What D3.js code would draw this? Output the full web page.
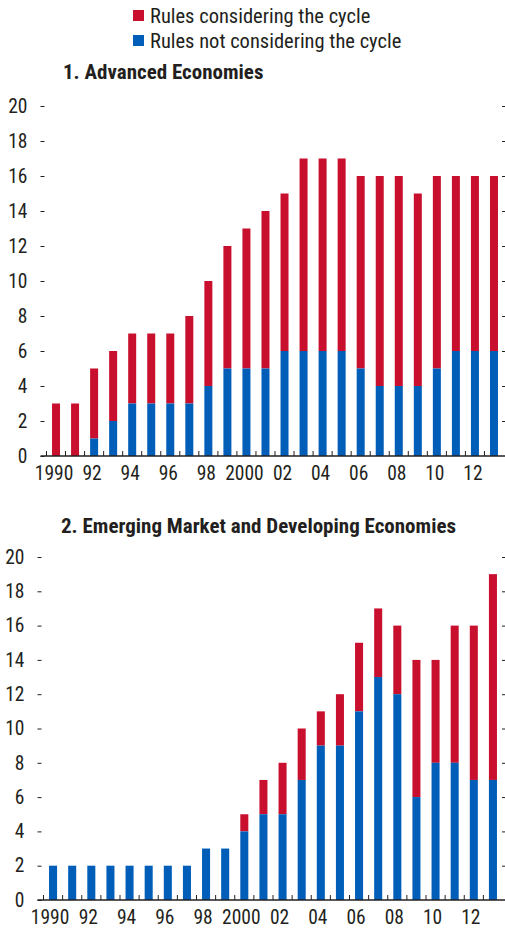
<!DOCTYPE html>
<html><head><meta charset="utf-8">
<script src="https://cdn.jsdelivr.net/npm/d3@7"></script>
<style>
body{margin:0;background:#fff;}
text{font-family:"Liberation Sans Narrow","Arial Narrow","Roboto Condensed",sans-serif;fill:#231f20;}
</style></head><body>
<svg id="c" width="505" height="932"></svg>
<script>
const years = d3.range(1990, 2014);
const tickLabels = ["1990","92","94","96","98","2000","02","04","06","08","10","12"];
const yTicks = [0,2,4,6,8,10,12,14,16,18,20];
// Advanced economies
const advNot = [0,0,1,2,3,3,3,3,4,5,5,5,6,6,6,6,5,4,4,4,5,6,6,6];
const advTotal = [3,3,5,6,7,7,7,8,10,12,13,14,15,17,17,17,16,16,16,15,16,16,16,16];
// Emerging market and developing economies
const emNot = [2,2,2,2,2,2,2,2,3,3,4,5,5,7,9,9,11,13,12,6,8,8,7,7];
const emTotal = [2,2,2,2,2,2,2,2,3,3,5,7,8,10,11,12,15,17,16,14,14,16,16,19];

const RED = "#c8102e", BLUE = "#005eb8";
const svg = d3.select("#c");

// legend
const leg = svg.append("g");
[["Rules considering the cycle", RED, 16], ["Rules not considering the cycle", BLUE, 41]].forEach(([t,c,y])=>{
  leg.append("rect").attr("x",133).attr("y",y-6).attr("width",11).attr("height",11).attr("fill",c);
  leg.append("text").attr("x",150).attr("y",y+7).attr("font-size",20.5).text(t);
});

function panel(title, titleX, titleY, y0, y20, xStart, xEnd, notArr, totArr, labelShift){
  const g = svg.append("g");
  const x = d3.scaleBand().domain(years).range([xStart, xEnd]).paddingInner(0.58).paddingOuter(0.29);
  const y = d3.scaleLinear().domain([0,20]).range([y0, y20]);
  g.append("text").attr("x",titleX).attr("y",titleY).attr("font-size",21).attr("font-weight","bold").text(title);
  // bars
  years.forEach((yr,i)=>{
    g.append("rect").attr("x",x(yr)).attr("width",x.bandwidth())
      .attr("y",y(totArr[i])).attr("height",y(notArr[i])-y(totArr[i])).attr("fill",RED);
    g.append("rect").attr("x",x(yr)).attr("width",x.bandwidth())
      .attr("y",y(notArr[i])).attr("height",y(0)-y(notArr[i])).attr("fill",BLUE);
  });
  // left axis
  const ly = d3.axisLeft(y).tickValues(yTicks).tickSize(5).tickPadding(9);
  const la = g.append("g").attr("transform",`translate(${xStart-5},0)`).call(ly);
  la.select(".domain").remove();
  la.selectAll("line").attr("transform","translate(5,0)").attr("stroke","#231f20").attr("x1",-6).attr("x2",-2);
  la.selectAll("text").attr("font-size",19.5).style("font-family",'"Liberation Sans Narrow","Arial Narrow","Roboto Condensed",sans-serif').attr("fill","#231f20");
  // right ticks
  const ra = g.append("g").attr("transform",`translate(505,0)`).call(d3.axisLeft(y).tickValues(yTicks.slice(1)).tickSize(3).tickFormat(""));
  ra.select(".domain").remove();
  ra.selectAll("line").attr("stroke","#231f20");
  // x axis
  g.append("line").attr("x1",xStart-6).attr("x2",505).attr("y1",y0).attr("y2",y0).attr("stroke","#231f20").attr("stroke-width",1.5);
  const step = x.step();
  years.forEach((yr,i)=>{
    const tx = x(yr) - (step - x.bandwidth())/2;
    g.append("line").attr("x1",tx).attr("x2",tx).attr("y1",y0).attr("y2",y0-5).attr("stroke","#231f20");
  });
  tickLabels.forEach((lab,i)=>{
    const yr = years[i*2];
    g.append("text").attr("x",x(yr)+x.bandwidth()/2+labelShift).attr("y",y0+24).attr("text-anchor","middle").attr("font-size",19.5).text(lab);
  });
}

panel("1. Advanced Economies", 63, 79, 456, 106, 46.5, 503.5, advNot, advTotal, -2);
panel("2. Emerging Market and Developing Economies", 61, 533, 900, 557, 43.5, 502.5, emNot, emTotal, -3);
</script>
</body></html>
